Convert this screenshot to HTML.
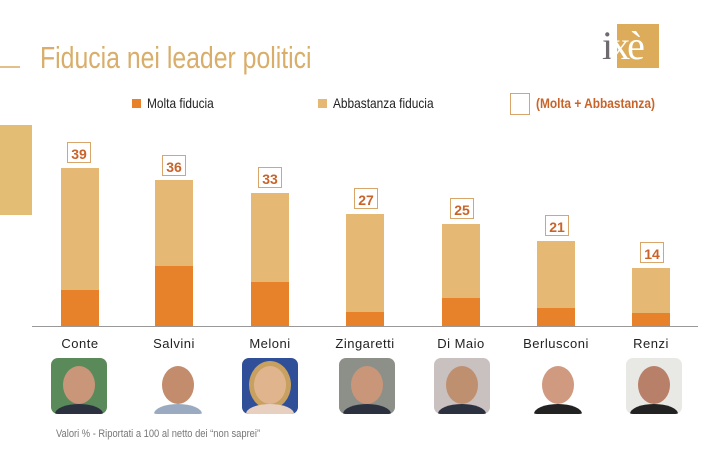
<!DOCTYPE html><html><head><style>
body{margin:0;width:718px;height:449px;background:#fff;position:relative;overflow:hidden;font-family:"Liberation Sans",sans-serif}
.a{position:absolute}
.t{font-family:"Liberation Sans Narrow","Liberation Sans",sans-serif}
.bar{position:absolute;width:38px;background:#e5b873}
.or{position:absolute;left:0;right:0;bottom:0;background:#e8822a}
.box{position:absolute;width:24px;height:21px;border:1px solid #d8a66a;color:#c8632a;font-weight:bold;font-size:14px;text-align:center;line-height:22px;box-sizing:border-box}
.nm{position:absolute;top:336px;width:100px;text-align:center;font-size:13px;color:#222;letter-spacing:.5px}
.ph{position:absolute;top:358px;width:56px;height:56px;border-radius:7px;overflow:hidden}
.ph i{position:absolute;left:12px;top:8px;width:32px;height:38px;border-radius:50%;background:#c9967a}
.ph b{position:absolute;left:4px;bottom:-10px;width:48px;height:20px;border-radius:50%;background:#2c3140}
</style></head><body>
<div class="a" style="left:0;top:66px;width:20px;height:2px;background:#e1c08a"></div>
<div class="a" style="left:0;top:125px;width:32px;height:90px;background:#e3bd74"></div>
<div class="a t" style="left:40px;top:40px;font-size:31px;color:#d9ae6a;transform:scaleX(.8);transform-origin:left">Fiducia nei leader politici</div>
<div class="a" style="left:617px;top:24px;width:42px;height:44px;background:#dcac5a"></div>
<div class="a" style="left:602px;top:22px;font-family:'Liberation Serif',serif;font-size:40px;color:#6e6a70;letter-spacing:-3px">i<span style="color:#fff">xè</span></div>
<div class="a" style="left:132px;top:99px;width:9px;height:9px;background:#e8822a"></div>
<div class="a t" style="left:147px;top:95px;font-size:14px;color:#222;transform:scaleX(.85);transform-origin:left">Molta fiducia</div>
<div class="a" style="left:318px;top:99px;width:9px;height:9px;background:#e5b873"></div>
<div class="a t" style="left:333px;top:95px;font-size:14px;color:#222;transform:scaleX(.85);transform-origin:left">Abbastanza fiducia</div>
<div class="a" style="left:510px;top:93px;width:18px;height:20px;border:1px solid #d8a66a"></div>
<div class="a t" style="left:536px;top:95px;font-size:14px;font-weight:bold;color:#c8632a;transform:scaleX(.85);transform-origin:left">(Molta + Abbastanza)</div>
<div class="a" style="left:32px;top:326px;width:666px;height:1px;background:#999"></div>

<div class="bar" style="left:61px;top:168px;height:158px"><div class="or" style="height:36px"></div></div>
<div class="box" style="left:67px;top:142px">39</div>
<div class="bar" style="left:155px;top:180px;height:146px"><div class="or" style="height:60px"></div></div>
<div class="box" style="left:162px;top:155px">36</div>
<div class="bar" style="left:251px;top:193px;height:133px"><div class="or" style="height:44px"></div></div>
<div class="box" style="left:258px;top:167px">33</div>
<div class="bar" style="left:346px;top:214px;height:112px"><div class="or" style="height:14px"></div></div>
<div class="box" style="left:354px;top:188px">27</div>
<div class="bar" style="left:442px;top:224px;height:102px"><div class="or" style="height:28px"></div></div>
<div class="box" style="left:450px;top:198px">25</div>
<div class="bar" style="left:537px;top:241px;height:85px"><div class="or" style="height:18px"></div></div>
<div class="box" style="left:545px;top:215px">21</div>
<div class="bar" style="left:632px;top:268px;height:58px"><div class="or" style="height:13px"></div></div>
<div class="box" style="left:640px;top:242px">14</div>

<div class="nm" style="left:30px">Conte</div>
<div class="nm" style="left:124px">Salvini</div>
<div class="nm" style="left:220px">Meloni</div>
<div class="nm" style="left:315px">Zingaretti</div>
<div class="nm" style="left:411px">Di Maio</div>
<div class="nm" style="left:506px">Berlusconi</div>
<div class="nm" style="left:601px">Renzi</div>

<div class="ph" style="left:51px;background:#5b8a5a"><i></i><b></b></div>
<div class="ph" style="left:150px;background:#fff"><i style="background:#c38c6c"></i><b style="background:#9aaac0"></b></div>
<div class="ph" style="left:242px;background:#2f4f98"><i style="background:#e0b58e;box-shadow:0 0 0 5px #c8a060"></i><b style="background:#e8d0c0"></b></div>
<div class="ph" style="left:339px;background:#8c9088"><i></i><b></b></div>
<div class="ph" style="left:434px;background:#c9c0c0"><i style="background:#bf9070"></i><b></b></div>
<div class="ph" style="left:530px;background:#fff"><i style="background:#d09a80"></i><b style="background:#222"></b></div>
<div class="ph" style="left:626px;background:#e8e8e4"><i style="background:#b88068"></i><b style="background:#222"></b></div>

<div class="a t" style="left:56px;top:428px;font-size:11px;color:#777;transform:scaleX(.85);transform-origin:left">Valori % - Riportati a 100 al netto dei “non saprei”</div>
</body></html>
